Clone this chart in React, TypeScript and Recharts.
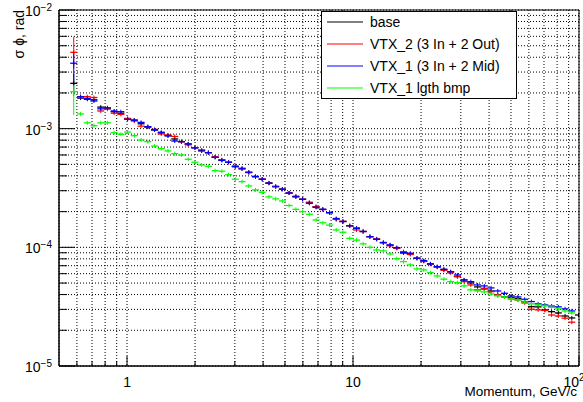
import {
  CartesianGrid,
  ErrorBar,
  Legend,
  ReferenceArea,
  Scatter,
  ScatterChart,
  XAxis,
  YAxis,
} from "recharts";

const FONT = '"Liberation Sans", Arial, Helvetica, sans-serif';

// bin centres, GeV/c (log binning)
const momentum = [
  0.581, 0.623, 0.667, 0.714, 0.765, 0.819, 0.877, 0.939, 1.006, 1.077,
  1.154, 1.236, 1.324, 1.417, 1.518, 1.626, 1.741, 1.865, 1.997, 2.139,
  2.291, 2.454, 2.628, 2.814, 3.014, 3.228, 3.457, 3.703, 3.965, 4.246,
  4.548, 4.871, 5.216, 5.586, 5.983, 6.408, 6.862, 7.349, 7.87, 8.429,
  9.027, 9.669, 10.36, 11.09, 11.88, 12.72, 13.62, 14.59, 15.62, 16.73,
  17.92, 19.19, 20.56, 22.01, 23.58, 25.25, 27.04, 28.96, 31.01, 33.21,
  35.57, 38.1, 40.8, 43.7, 46.8, 50.12, 53.68, 57.49, 61.57, 65.94,
  70.62, 75.63, 81.0, 86.75, 92.91, 99.5,
];

const base = [
  2.41e-3, 1.81e-3, 1.77e-3, 1.75e-3, 1.52e-3, 1.49e-3, 1.39e-3, 1.35e-3, 1.21e-3, 1.18e-3,
  1.1e-3, 1.03e-3, 9.75e-4, 9.2e-4, 8.76e-4, 8.19e-4, 7.77e-4, 7.43e-4, 6.92e-4, 6.55e-4,
  6.28e-4, 5.74e-4, 5.45e-4, 5.21e-4, 4.79e-4, 4.58e-4, 4.29e-4, 3.94e-4, 3.75e-4, 3.49e-4,
  3.26e-4, 3.09e-4, 2.87e-4, 2.67e-4, 2.54e-4, 2.37e-4, 2.2e-4, 2.09e-4, 1.96e-4, 1.72e-4,
  1.65e-4, 1.52e-4, 1.45e-4, 1.36e-4, 1.23e-4, 1.17e-4, 1.095e-4, 1.04e-4, 9.89e-5, 8.97e-5,
  8.8e-5, 8.09e-5, 7.68e-5, 7.25e-5, 6.84e-5, 6.51e-5, 6.2e-5, 5.66e-5, 5.31e-5, 5.01e-5,
  4.64e-5, 4.46e-5, 4.29e-5, 3.97e-5, 3.84e-5, 3.8e-5, 3.7e-5, 3.49e-5, 3.16e-5, 3.15e-5,
  2.97e-5, 2.87e-5, 2.8e-5, 2.64e-5, 2.54e-5, 2.69e-5,
];

const vtx2Out = [
  4.4e-3, 1.86e-3, 1.86e-3, 1.83e-3, 1.41e-3, 1.46e-3, 1.35e-3, 1.32e-3, 1.22e-3, 1.16e-3,
  1.05e-3, 1.04e-3, 9.88e-4, 9.02e-4, 8.85e-4, 8.6e-4, 7.77e-4, 7.3e-4, 6.92e-4, 6.62e-4,
  6.28e-4, 5.8e-4, 5.45e-4, 5.21e-4, 4.85e-4, 4.6e-4, 4.26e-4, 3.97e-4, 3.75e-4, 3.47e-4,
  3.26e-4, 3.09e-4, 2.87e-4, 2.7e-4, 2.54e-4, 2.4e-4, 2.2e-4, 2.08e-4, 1.96e-4, 1.72e-4,
  1.66e-4, 1.52e-4, 1.4e-4, 1.36e-4, 1.23e-4, 1.18e-4, 1.1e-4, 1.03e-4, 9.8e-5, 9.2e-5,
  8.7e-5, 8.1e-5, 7.6e-5, 7.2e-5, 6.8e-5, 6.4e-5, 6.1e-5, 5.7e-5, 5.14e-5, 4.82e-5,
  4.38e-5, 4.52e-5, 4.23e-5, 3.97e-5, 3.82e-5, 3.67e-5, 3.6e-5, 3.4e-5, 3.01e-5, 2.97e-5,
  2.94e-5, 2.69e-5, 2.64e-5, 2.53e-5, 2.34e-5,
];

const vtx1Mid = [
  3.56e-3, 1.86e-3, 1.8e-3, 1.71e-3, 1.47e-3, 1.5e-3, 1.41e-3, 1.39e-3, 1.2e-3, 1.18e-3,
  1.13e-3, 1.04e-3, 9.75e-4, 9.33e-4, 8.68e-4, 7.87e-4, 7.77e-4, 7.43e-4, 6.88e-4, 6.49e-4,
  6.28e-4, 5.74e-4, 5.4e-4, 5.21e-4, 4.79e-4, 4.64e-4, 4.29e-4, 3.94e-4, 3.75e-4, 3.47e-4,
  3.24e-4, 3.09e-4, 2.87e-4, 2.67e-4, 2.54e-4, 2.35e-4, 2.17e-4, 2.09e-4, 1.96e-4, 1.75e-4,
  1.65e-4, 1.52e-4, 1.45e-4, 1.36e-4, 1.23e-4, 1.17e-4, 1.095e-4, 1.05e-4, 9.94e-5, 9.02e-5,
  8.92e-5, 8.09e-5, 7.72e-5, 7.25e-5, 6.88e-5, 6.53e-5, 6.24e-5, 5.85e-5, 5.31e-5, 5.14e-5,
  4.82e-5, 4.73e-5, 4.55e-5, 4.29e-5, 4.1e-5, 3.9e-5, 3.82e-5, 3.65e-5, 3.49e-5, 3.34e-5,
  3.27e-5, 3.2e-5, 3.15e-5, 3.03e-5, 2.91e-5,
];

const lgthBmp = [
  2.05e-3, 1.33e-3, 1.12e-3, 1.06e-3, 1.12e-3, 1.12e-3, 9.25e-4, 8.97e-4, 9.37e-4, 8.73e-4,
  8.03e-4, 7.77e-4, 7.14e-4, 6.79e-4, 6.49e-4, 6.16e-4, 6.0e-4, 5.52e-4, 5.21e-4, 4.94e-4,
  4.82e-4, 4.43e-4, 4.38e-4, 4.1e-4, 3.75e-4, 3.58e-4, 3.29e-4, 3.05e-4, 2.91e-4, 2.66e-4,
  2.56e-4, 2.46e-4, 2.25e-4, 2.09e-4, 2.0e-4, 1.9e-4, 1.7e-4, 1.61e-4, 1.54e-4, 1.4e-4,
  1.34e-4, 1.19e-4, 1.15e-4, 1.07e-4, 1.0e-4, 9.5e-5, 9.33e-5, 8.8e-5, 8.03e-5, 7.58e-5,
  7.11e-5, 6.58e-5, 6.45e-5, 6.12e-5, 5.74e-5, 5.39e-5, 5.14e-5, 5.04e-5, 4.73e-5, 4.38e-5,
  4.29e-5, 4.21e-5, 4.05e-5, 3.9e-5, 3.82e-5, 3.67e-5, 3.6e-5, 3.47e-5, 3.34e-5, 3.27e-5,
  3.21e-5, 3.12e-5, 3.03e-5, 2.91e-5, 2.8e-5,
];

// errors [down, up] of the first (low statistics) bin
const baseFirstErr = [5e-4, 5e-4];
const vtx2FirstErr = [1.2e-3, 1.56e-3];
const vtx1FirstErr = [1.2e-3, 0.87e-3];
const bmpFirstErr = [0.75e-3, 0.38e-3];

const seriesNames = ["base", "VTX_2 (3 In + 2 Out)", "VTX_1 (3 In + 2 Mid)", "VTX_1 lgth bmp"];
const seriesColors = ["#000000", "#ff0000", "#0000ff", "#00ff00"];

const xTicks = [0.6, 0.7, 0.8, 0.9, 1, 2, 3, 4, 5, 6, 7, 8, 9, 10, 20, 30, 40, 50, 60, 70, 80, 90, 100];
const yTicks = [
  1e-5, 2e-5, 3e-5, 4e-5, 5e-5, 6e-5, 7e-5, 8e-5, 9e-5,
  1e-4, 2e-4, 3e-4, 4e-4, 5e-4, 6e-4, 7e-4, 8e-4, 9e-4,
  1e-3, 2e-3, 3e-3, 4e-3, 5e-3, 6e-3, 7e-3, 8e-3, 9e-3,
  1e-2,
];

function toPoints(values: number[], firstErr: number[]) {
  return values.map((v, i) => ({ p: momentum[i], v, err: i === 0 ? firstErr : [0, 0] }));
}

const seriesData = [
  toPoints(base, baseFirstErr),
  toPoints(vtx2Out, vtx2FirstErr),
  toPoints(vtx1Mid, vtx1FirstErr),
  toPoints(lgthBmp, bmpFirstErr),
];

function isDecade(v: number) {
  const l = Math.log10(v);
  return Math.abs(l - Math.round(l)) < 1e-6;
}

function XTick({ x, y, payload }: any) {
  const v = payload.value;
  const major = isDecade(v);
  const e = Math.round(Math.log10(v));
  return (
    <g>
      <line x1={x} x2={x} y1={y} y2={y - (major ? 10 : 5)} stroke="#000" />
      {major && e < 2 && (
        <text x={x} y={y + 21} textAnchor="middle" fontSize={14} fontFamily={FONT} fill="#000">
          {e === 0 ? "1" : "10"}
        </text>
      )}
      {major && e >= 2 && (
        // last label pulled in so it stays on the canvas
        <text x={x - 5} y={y + 21} textAnchor="middle" fontSize={14} fontFamily={FONT} fill="#000">
          10
          <tspan dy={-6} fontSize={10}>
            {e}
          </tspan>
        </text>
      )}
    </g>
  );
}

function YTick({ x, y, payload }: any) {
  const v = payload.value;
  const major = isDecade(v);
  const e = Math.round(Math.log10(v));
  return (
    <g>
      <line x1={x} x2={x + (major ? 16 : 8)} y1={y} y2={y} stroke="#000" />
      {major && (
        <text x={x - 7} y={y + 6} textAnchor="end" fontSize={14} fontFamily={FONT} fill="#000">
          10
          <tspan dy={-5} fontSize={10}>
            {"\u2212" + -e}
          </tspan>
        </text>
      )}
    </g>
  );
}

function Cross({ cx, cy, color }: any) {
  if (cx == null || cy == null) return null;
  return (
    <g>
      <line x1={cx - 3.5} x2={cx + 3.5} y1={cy} y2={cy} stroke={color} strokeWidth={1.3} />
      <line x1={cx} x2={cx} y1={cy - 2} y2={cy + 2} stroke={color} strokeWidth={1} />
    </g>
  );
}

function LegendBox() {
  return (
    <div
      style={{
        width: 196,
        height: 88,
        border: "1px solid #000",
        background: "#fff",
        boxSizing: "border-box",
      }}
    >
      <svg width={194} height={86} style={{ display: "block" }}>
        {seriesNames.map((name, i) => (
          <g key={name}>
            <line x1={5} x2={41} y1={10 + 22 * i} y2={10 + 22 * i} stroke={seriesColors[i]} strokeWidth={1.2} />
            <text x={48} y={15 + 22 * i} fontSize={14} fontFamily={FONT} fill="#000">
              {name}
            </text>
          </g>
        ))}
      </svg>
    </div>
  );
}

export default function App() {
  return (
    <div style={{ position: "absolute", left: 0, top: 0, background: "#fff" }}>
      <ScatterChart width={583} height={402} margin={{ top: 10, right: 4, left: 0, bottom: 0 }}>
        <CartesianGrid stroke="#000" strokeDasharray="1 2" strokeWidth={1} />
        <XAxis
          dataKey="p"
          type="number"
          scale="log"
          domain={[0.5, 100]}
          allowDataOverflow
          ticks={xTicks}
          interval={0}
          tickSize={0}
          tickMargin={0}
          tickLine={false}
          tick={<XTick />}
          height={36}
          axisLine={{ stroke: "#000" }}
          label={{
            content: () => (
              <text x={577} y={396} textAnchor="end" fontSize={13.5} fontFamily={FONT} fill="#000">
                Momentum, GeV/c
              </text>
            ),
          }}
        />
        <YAxis
          dataKey="v"
          type="number"
          scale="log"
          domain={[1e-5, 1e-2]}
          allowDataOverflow
          ticks={yTicks}
          interval={0}
          tickSize={0}
          tickMargin={0}
          tickLine={false}
          tick={<YTick />}
          width={59}
          axisLine={{ stroke: "#000" }}
          label={{
            content: () => (
              <text
                transform="translate(24,10) rotate(-90)"
                textAnchor="end"
                fontSize={14}
                fontFamily={FONT}
                fill="#000"
              >
                σ ϕ, rad
              </text>
            ),
          }}
        />
        <ReferenceArea
          x1={0.5}
          x2={100}
          y1={1e-5}
          y2={1e-2}
          fill="none"
          stroke="#000"
          strokeWidth={1}
          ifOverflow="visible"
        />
        {seriesData.map((data, i) => (
          <Scatter
            key={seriesNames[i]}
            name={seriesNames[i]}
            data={data}
            fill={seriesColors[i]}
            isAnimationActive={false}
            shape={(props: any) => <Cross cx={props.cx} cy={props.cy} color={seriesColors[i]} />}
          >
            <ErrorBar dataKey="err" direction="y" width={0} stroke={seriesColors[i]} strokeWidth={1} />
          </Scatter>
        ))}
        <Legend
          layout="horizontal"
          verticalAlign="middle"
          align="center"
          content={() => <LegendBox />}
          wrapperStyle={{ left: 321, top: 11, width: 196, height: 88 }}
        />
      </ScatterChart>
    </div>
  );
}
